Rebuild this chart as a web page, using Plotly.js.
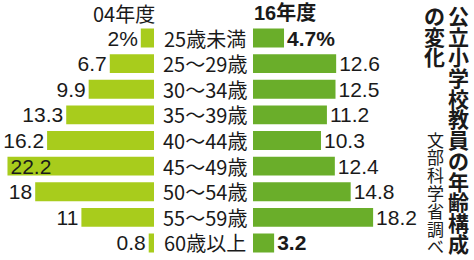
<!DOCTYPE html>
<html><head><meta charset="utf-8">
<script src="https://cdn.plot.ly/plotly-3.0.1.min.js"></script>
<style>html,body{margin:0;padding:0;background:#fff;}#chart{width:474px;height:260px;}</style>
</head><body><div id="chart"></div>
<script>
const categories = ["25歳未満","25～29歳","30～34歳","35～39歳","40～44歳","45～49歳","50～54歳","55～59歳","60歳以上"];
const values04 = [2, 6.7, 9.9, 13.3, 16.2, 22.2, 18, 11, 0.8];
const values16 = [4.7, 12.6, 12.5, 11.2, 10.3, 12.4, 14.8, 18.2, 3.2];
const label04 = ["2%","6.7","9.9","13.3","16.2","22.2","18","11","0.8"];
const label16 = ["<b>4.7%</b>","12.6","12.5","11.2","10.3","12.4","14.8","18.2","<b>3.2</b>"];
const header04 = "04年度";
const header16 = "16年度";
const titleMain = "公立小学校教員の年齢構成";
const titleSub = "の変化";
const source = "文部科学省調べ";

const NUM_FONT = "'Liberation Sans Narrow', 'Liberation Sans', Arial, sans-serif";
const JP_FONT = "'Liberation Sans Narrow', 'Noto Sans CJK JP', sans-serif";
const idx = categories.map((_, i) => i);

const traces = [
  {type:'bar', orientation:'h', x: values04, y: idx, xaxis:'x', yaxis:'y',
   marker:{color:'#a8cc1c'}, text: label04,
   textposition: values04.map(v => v > 20 ? 'inside' : 'outside'),
   insidetextanchor:'end', constraintext:'none', cliponaxis:false,
   textfont:{family:NUM_FONT, size:21, color:'#1a1a1a'},
   insidetextfont:{family:NUM_FONT, size:21, color:'#1a1a1a'},
   outsidetextfont:{family:NUM_FONT, size:21, color:'#1a1a1a'},
   hoverinfo:'skip'},
  {type:'bar', orientation:'h', x: values16, y: idx, xaxis:'x2', yaxis:'y',
   marker:{color:'#6aae2a'}, text: label16, textposition:'outside',
   constraintext:'none', cliponaxis:false,
   textfont:{family:NUM_FONT, size:21, color:'#1a1a1a'},
   outsidetextfont:{family:NUM_FONT, size:21, color:'#1a1a1a'},
   hoverinfo:'skip'}
];

const annotations = [];
categories.forEach((c, i) => annotations.push({
  text:c, x:0.4335, xref:'paper', y:i, yref:'y', showarrow:false,
  xanchor:'center', yanchor:'middle', font:{family:JP_FONT, size:20, color:'#1a1a1a'}
}));
annotations.push({text:header04, x:157/474, xref:'paper', y:1-13/260, yref:'paper', showarrow:false,
  xanchor:'right', yanchor:'middle', font:{family:JP_FONT, size:20, color:'#1a1a1a'}});
annotations.push({text:'<b>'+header16+'</b>', x:252/474, xref:'paper', y:1-13/260, yref:'paper', showarrow:false,
  xanchor:'left', yanchor:'middle', font:{family:"'Liberation Sans', 'Noto Sans CJK JP', sans-serif", size:20, color:'#1a1a1a'}});

function vertical(str, cx, cy0, pitch, size, bold) {
  Array.from(str).forEach((ch, k) => annotations.push({
    text: bold ? '<b>'+ch+'</b>' : ch, x: cx/474, xref:'paper', y: 1-(cy0+k*pitch)/260, yref:'paper',
    showarrow:false, xanchor:'center', yanchor:'middle',
    font:{family:"'Noto Sans CJK JP', sans-serif", size:size, color:'#1a1a1a'}
  }));
}
vertical(titleMain, 458.5, 15, 20.7, 21, true);
vertical(titleSub, 434, 15, 20.7, 21, true);
vertical(source, 435, 139, 17.8, 17, false);

const layout = {
  width:474, height:260, margin:{l:0,r:0,t:0,b:0},
  paper_bgcolor:'#fff', plot_bgcolor:'#fff', showlegend:false, bargap:0.26,
  xaxis:{domain:[0, 154/474], range:[154/6.6, 0], visible:false, fixedrange:true, anchor:'y'},
  xaxis2:{domain:[253/474, 415/474], range:[0, 162/6.6], visible:false, fixedrange:true, anchor:'y'},
  yaxis:{domain:[1-255.8/260, 1-25.2/260], range:[8.5, -0.5], visible:false, fixedrange:true, anchor:'x'},
  annotations: annotations
};
Plotly.newPlot('chart', traces, layout, {staticPlot:true, displayModeBar:false});
</script></body></html>
